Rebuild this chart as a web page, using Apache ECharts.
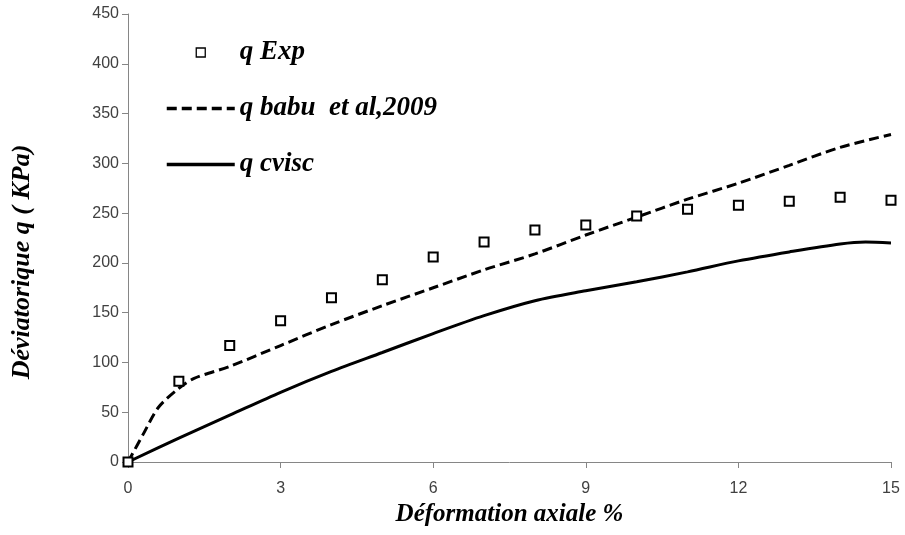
<!DOCTYPE html>
<html>
<head>
<meta charset="utf-8">
<script src="https://cdn.jsdelivr.net/npm/echarts@6/dist/echarts.min.js"></script>
<style>
  html, body { margin: 0; padding: 0; background: #fff; }
  #chart { width: 905px; height: 535px; }
</style>
</head>
<body>
<div id="chart"></div>
<script>
// x = déformation axiale (%), y = déviatorique q (kPa)
const expX = [0, 1, 2, 3, 4, 5, 6, 7, 8, 9, 10, 11, 12, 13, 14, 15]
const expQ = [0, 81, 117, 142, 165, 183, 206, 221, 233, 238, 247, 254, 258, 262, 266, 263]

const babuX = [0, 0.3, 0.6, 1, 1.3, 2, 3, 4, 5, 6, 7, 8, 9, 10, 11, 12, 13, 14, 15]
const babuQ = [0, 28, 55, 74, 84, 96, 117, 138, 157, 175, 193, 209, 228, 246, 264, 280, 298, 316, 329]

const cviscX = [0, 1, 2, 3, 4, 5, 6, 7, 8, 9, 10, 11, 12, 13, 14, 14.5, 15]
const cviscQ = [0, 24, 47, 70, 91, 110, 129, 147, 162, 172, 181, 191, 202, 211, 219, 221, 220]

const xTicks = { min: 0, max: 15, interval: 3 }
const yTicks = { min: 0, max: 450, interval: 50 }

const pair = (xs, ys) => xs.map((x, i) => [x, ys[i]])

const serif = '"Liberation Serif", "Times New Roman", serif'
const sans = '"Liberation Sans", Arial, sans-serif'
const axisGray = '#868686'
const titleFont = { fontFamily: serif, fontSize: 25, fontStyle: 'italic', fontWeight: 'bold', color: '#000' }

const chart = echarts.init(document.getElementById('chart'))
chart.setOption({
  animation: false,
  grid: { left: 128, right: 14, top: 14, bottom: 73 },
  legend: {
    orient: 'vertical',
    left: 160,
    top: 34,
    itemWidth: 68,
    itemHeight: 9,
    itemGap: 29,
    textStyle: { ...titleFont, fontSize: 27 },
    data: [
      { name: 'q Exp', icon: 'path://M0,0h10v10h-10z', itemStyle: { borderWidth: 1.3 } },
      // hide the point symbol, keep the line sample
      { name: 'q babu  et al,2009', itemStyle: { opacity: 0 }, lineStyle: { width: 3.5 } },
      { name: 'q cvisc', itemStyle: { opacity: 0 }, lineStyle: { width: 3.5 } }
    ]
  },
  xAxis: {
    type: 'value',
    ...xTicks,
    name: 'Déformation axiale %',
    nameLocation: 'middle',
    nameGap: 35,
    nameTextStyle: titleFont,
    axisLine: { show: true, lineStyle: { color: axisGray, width: 1 } },
    axisTick: { show: true, length: 6, lineStyle: { color: axisGray } },
    axisLabel: { margin: 19, fontFamily: sans, fontSize: 16, color: '#404040' },
    splitLine: { show: false }
  },
  yAxis: {
    type: 'value',
    ...yTicks,
    name: 'Déviatorique q ( KPa)',
    nameLocation: 'middle',
    nameGap: 93,
    nameTextStyle: { ...titleFont, fontSize: 26, padding: [0, 48, 0, 0] },
    axisLine: { show: true, lineStyle: { color: axisGray, width: 1 } },
    axisTick: { show: true, length: 6, lineStyle: { color: axisGray } },
    axisLabel: { margin: 9, fontFamily: sans, fontSize: 16, color: '#404040' },
    splitLine: { show: false }
  },
  series: [
    {
      name: 'q Exp',
      type: 'scatter',
      data: pair(expX, expQ),
      symbol: 'rect',
      symbolSize: 9,
      itemStyle: { color: '#fff', borderColor: '#000', borderWidth: 2, opacity: 1 },
      z: 5
    },
    {
      name: 'q babu  et al,2009',
      type: 'line',
      data: pair(babuX, babuQ),
      smooth: 0.3,
      showSymbol: false,
      symbol: 'none',
      lineStyle: { color: '#000', width: 3, type: [10, 5] },
      itemStyle: { color: '#000' }
    },
    {
      name: 'q cvisc',
      type: 'line',
      data: pair(cviscX, cviscQ),
      smooth: 0.3,
      showSymbol: false,
      symbol: 'none',
      lineStyle: { color: '#000', width: 3 },
      itemStyle: { color: '#000' }
    }
  ]
})
</script>
</body>
</html>
